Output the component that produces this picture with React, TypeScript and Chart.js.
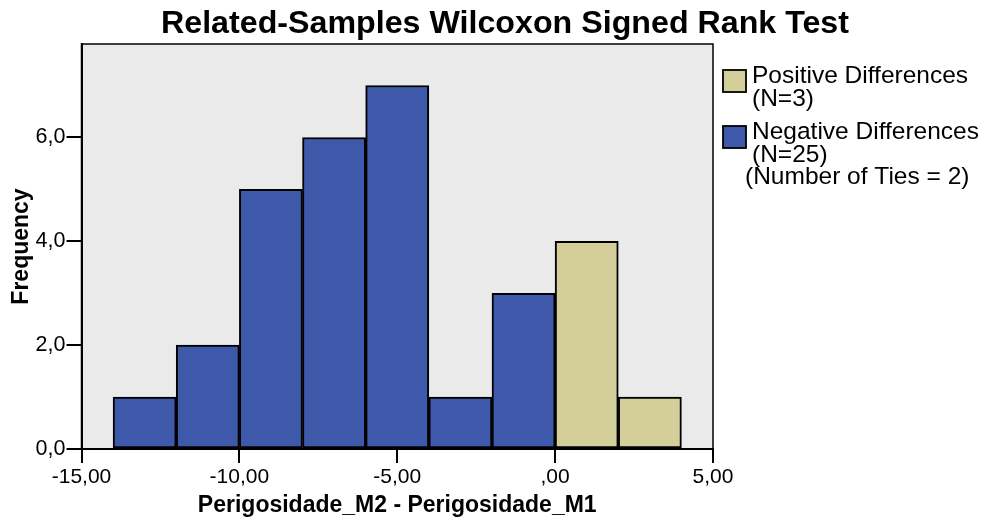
import React, { useEffect, useRef } from "react";
import { Chart, registerables } from "chart.js";

Chart.register(...registerables);

const titleText = "Related-Samples Wilcoxon Signed Rank Test";
const xTitle = "Perigosidade_M2 - Perigosidade_M1";
const yTitle = "Frequency";

// histogram bins (width 2): centres and frequencies
const negCenters = [-13, -11, -9, -7, -5, -3, -1];
const negFreq = [1, 2, 5, 6, 7, 1, 3];
const posCenters = [1, 3];
const posFreq = [4, 1];

const xTickValues = [-15, -10, -5, 0, 5];
const yTickValues = [0, 2, 4, 6];

const posLegend = ["Positive Differences", "(N=3)"];
const negLegend = ["Negative Differences", "(N=25)"];
const tiesNote = "(Number of Ties = 2)";

const BLUE = "#3E58AA";
const TAN = "#D4CF9A";
const BG = "#EAEAEA";
const FONT = "'Liberation Sans', Arial, sans-serif";

function fmtX(v: number): string {
  const s = Math.abs(v).toFixed(2).replace(".", ",");
  const t = s.startsWith("0,") ? s.slice(1) : s;
  return (v < 0 ? "-" : "") + t;
}
function fmtY(v: number): string {
  return v.toFixed(1).replace(".", ",");
}

const decorPlugin = {
  id: "decor",
  beforeDraw(chart: any) {
    const { ctx, chartArea: a } = chart;
    ctx.save();
    ctx.fillStyle = "#ffffff";
    ctx.fillRect(0, 0, chart.width, chart.height);
    ctx.fillStyle = BG;
    ctx.fillRect(a.left, a.top, a.right - a.left, a.bottom - a.top);
    ctx.strokeStyle = "#000";
    ctx.lineWidth = 1.5;
    ctx.strokeRect(a.left, a.top, a.right - a.left, a.bottom - a.top);
    ctx.restore();
  },
  afterDraw(chart: any) {
    const { ctx } = chart;
    ctx.save();
    // title
    ctx.font = `bold 30px ${FONT}`;
    ctx.fillStyle = "#000";
    ctx.textBaseline = "alphabetic";
    ctx.textAlign = "center";
    const w = ctx.measureText(titleText).width;
    const target = 688;
    ctx.translate(505, 33);
    ctx.scale(target / w, 1.04);
    ctx.fillText(titleText, 0, 0);
    ctx.restore();

    // legend
    ctx.save();
    ctx.font = `24.5px ${FONT}`;
    ctx.textAlign = "left";
    ctx.textBaseline = "alphabetic";
    const items = [
      { color: TAN, lines: posLegend, boxY: 70, textY: 83 },
      { color: BLUE, lines: negLegend, boxY: 126, textY: 139 },
    ];
    items.forEach((it) => {
      ctx.fillStyle = it.color;
      ctx.fillRect(723, it.boxY, 23, 22);
      ctx.strokeStyle = "#000";
      ctx.lineWidth = 1.8;
      ctx.strokeRect(723, it.boxY, 23, 22);
      ctx.fillStyle = "#000";
      it.lines.forEach((l, i) => ctx.fillText(l, 752, it.textY + i * 22.5));
    });
    ctx.fillText(tiesNote, 745, 184);
    ctx.restore();
  },
};

export default function App() {
  const ref = useRef<HTMLCanvasElement>(null);
  useEffect(() => {
    document.body.style.margin = "0";
    const chart = new Chart(ref.current!, {
      type: "bar",
      data: {
        datasets: [
          {
            label: "Negative Differences",
            data: negCenters.map((x, i) => ({ x, y: negFreq[i] })),
            backgroundColor: BLUE,
            borderColor: "#000",
            borderWidth: 2,
            borderSkipped: false,
            barPercentage: 1,
            categoryPercentage: 1,
            grouped: false,
          } as any,
          {
            label: "Positive Differences",
            data: posCenters.map((x, i) => ({ x, y: posFreq[i] })),
            backgroundColor: TAN,
            borderColor: "#000",
            borderWidth: 2,
            borderSkipped: false,
            barPercentage: 1,
            categoryPercentage: 1,
            grouped: false,
          } as any,
        ],
      },
      options: {
        animation: false,
        responsive: false,
        layout: { padding: { left: 0, top: 44, right: 271, bottom: 0 } },
        plugins: {
          legend: { display: false },
          title: { display: false },
          tooltip: { enabled: false },
        },
        scales: {
          x: {
            type: "linear",
            min: -15,
            max: 5,
            offset: false,
            afterBuildTicks: (s: any) => {
              s.ticks = xTickValues.map((v) => ({ value: v }));
            },
            afterFit: (s: any) => {
              s.height = 76;
            },
            ticks: {
              callback: (v: any) => fmtX(Number(v)),
              color: "#000",
              font: { family: FONT, size: 21 },
              padding: 2,
              maxRotation: 0,
            },
            grid: { drawOnChartArea: false, offset: false, tickLength: 14, color: "#000", lineWidth: 2 },
            border: { color: "#000", width: 2 },
            title: {
              display: true,
              text: xTitle,
              color: "#000",
              font: { family: FONT, size: 23, weight: "bold" },
              padding: { top: 0, bottom: 6 },
            },
          },
          y: {
            type: "linear",
            min: 0,
            max: 7.8,
            afterBuildTicks: (s: any) => {
              s.ticks = yTickValues.map((v) => ({ value: v }));
            },
            afterFit: (s: any) => {
              s.width = 81.5;
            },
            ticks: {
              callback: (v: any) => fmtY(Number(v)),
              color: "#000",
              font: { family: FONT, size: 21.5 },
              padding: 1,
            },
            grid: { drawOnChartArea: false, tickLength: 15, color: "#000", lineWidth: 2 },
            border: { color: "#000", width: 2 },
            title: {
              display: true,
              text: yTitle,
              color: "#000",
              font: { family: FONT, size: 23, weight: "bold" },
              padding: { top: 8, bottom: 0 },
            },
          },
        },
      } as any,
      plugins: [decorPlugin],
    });
    return () => chart.destroy();
  }, []);
  return (
    <div style={{ width: 984, height: 525 }}>
      <canvas ref={ref} width={984} height={525} />
    </div>
  );
}
